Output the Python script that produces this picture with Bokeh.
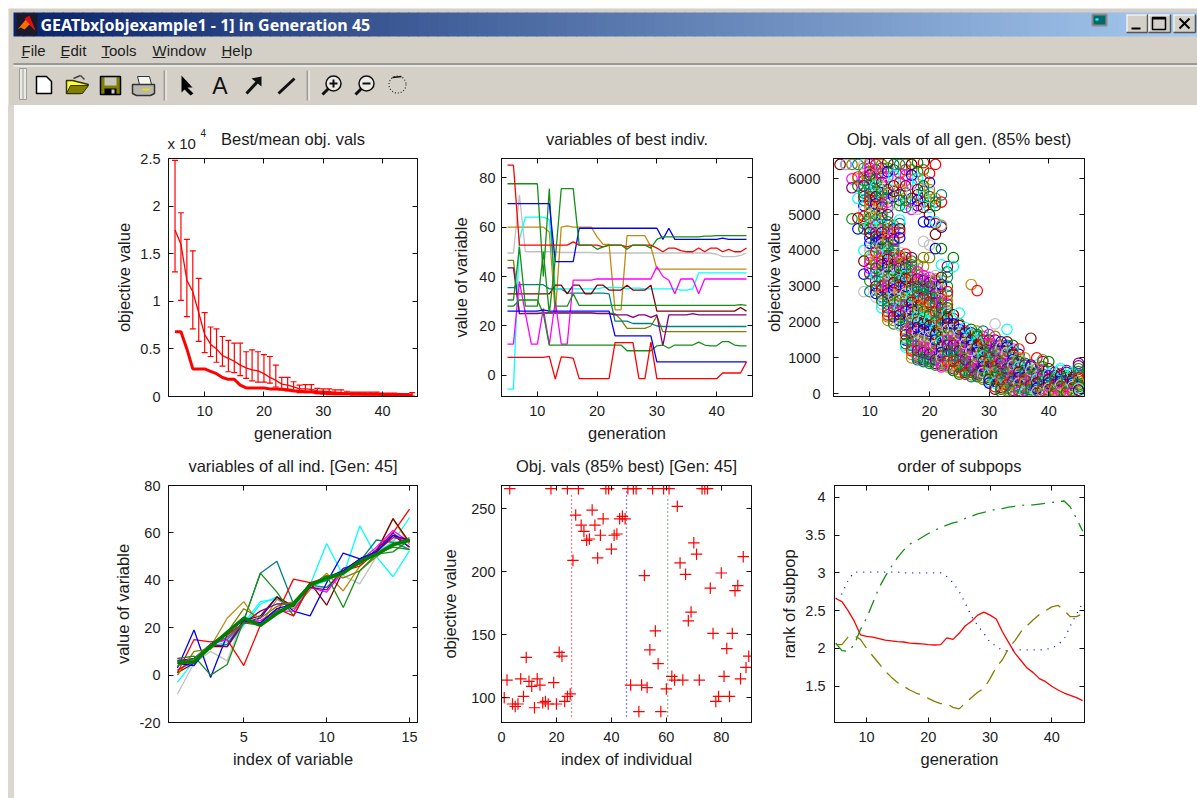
from bokeh.plotting import figure
from bokeh.layouts import column, row
from bokeh.models import (ColumnDataSource, FixedTicker, LinearAxis, Whisker, TeeHead, Label, Spacer,
                          NumeralTickFormatter, Range1d, Title, CustomLabelingPolicy)
from bokeh.core.properties import value
from bokeh.embed import file_html
from bokeh.resources import INLINE

FONT = "Liberation Sans"
TXT = "#1c1c1c"
GENS = list(range(5, 46))

# ---- panel 1 : best / mean objective values (x 10^4)
best = [0.68,0.68,0.5,0.29,0.29,
        0.29,0.265,0.24,0.2,0.18,0.18,0.12,0.09,0.09,0.09,
        0.09,0.08,0.08,0.075,0.07,0.06,0.055,0.05,0.05,0.04,
        0.04,0.035,0.03,0.03,0.03,0.03,0.03,0.025,0.025,0.025,
        0.02,0.02,0.02,0.015,0.015,0.015]
mean = [1.75,1.6,1.22,1.1,0.88,
        0.65,0.55,0.5,0.43,0.4,0.37,0.33,0.3,0.28,0.27,
        0.24,0.2,0.17,0.13,0.12,0.1,0.08,0.08,0.075,0.06,
        0.055,0.05,0.045,0.04,0.035,0.03,0.03,0.03,0.03,0.03,
        0.025,0.022,0.022,0.02,0.02,0.022]
upper = [2.48,1.93,1.65,1.53,1.24,
         0.88,0.73,0.71,0.63,0.59,0.56,0.56,0.47,0.49,0.47,
         0.44,0.42,0.33,0.2,0.2,0.155,0.12,0.125,0.125,0.085,
         0.08,0.08,0.07,0.07,0.055,0.045,0.045,0.045,0.045,0.045,
         0.035,0.035,0.035,0.03,0.03,0.04]
lower = [1.31,1.01,0.84,0.71,0.58,
         0.46,0.42,0.36,0.32,0.26,0.25,0.22,0.19,0.165,0.15,
         0.15,0.14,0.1,0.07,0.06,0.05,0.04,0.04,0.04,0.03,
         0.025,0.02,0.02,0.02,0.02,0.015,0.015,0.015,0.015,0.015,
         0.01,0.01,0.01,0.01,0.01,0.005]

# ---- panel 2 : variables of best individual
v_red_top = [85,85,52.7,52.7,52.7,
             52.7,52.7,52.7,52.7,52.7,52.7,54,52.7,52.7,52.7,
             52.7,52,52.7,52.7,52.7,52,52.7,52.7,52.7,52.7,
             51.5,50,51.5,51.5,50.5,50,50,51.5,50,51.5,
             51.5,50,51,50,50,51.5]
v_green_a = [77.5,77.5,77.5,77.5,77.5,
             77.5,40,75.5,28,28,28,33,28.3,28.3,28.3,
             28.3,28.3,28.3,28.3,28.3,28.3,28.3,28.3,28.3,28.3,
             28.3,28.3,28.3,28.3,28.3,28.3,28.3,28.3,28.3,28.3,
             28.3,28.3,28.3,28.3,28.6,28.3]
v_green_b = [30.5,30.5,52,28,28,
             28,50,25,47,75.5,75.5,75.5,52.7,52.7,52.7,
             51,52,52.7,52.7,52.7,51,52.7,52.7,52.7,51.5,
             55,56,56,56,56,56,56,56,56.3,56.3,
             56.5,56.5,56.5,56.5,56.5,56.5]
v_green_c = [28,28,30.5,30.5,30.5,
             30.5,25,12.3,12.3,12.3,12.3,12.3,12.3,12.3,12.3,
             12.3,12.3,12.3,12.3,12.3,10,10,10,10,10,
             12,12.3,11,12.3,12.3,12.3,12.3,13.5,12.3,12,
             12,13.7,13.7,12.3,12,12]
v_blue_top = [69.5,69.5,69.5,69.5,69.5,
              69.5,69.5,69.5,46,46,46,46,59.5,59.5,59.5,
              59.5,59.5,59.5,59.5,59.5,59.5,59.5,59.5,59.5,59.5,
              59.5,55,59.5,55,55,55,55,55,55,55,
              55,55.5,55,55,55,55]
v_blue_low = [26,26,26,26,26,
              26,26.5,26,26,26,26,26,26,26,26,
              26,26,26,16,16,16,16,16,16,16,
              5.5,5.5,5.5,5.5,5.5,5.5,5.5,5.5,5.5,5.5,
              5.5,5.5,5.5,5.5,5.5,5.5]
v_gold = [60,60,60,60,60,
          60,60,58,25,60,60.5,60,60,60,60,
          56,53,53,26.5,26.5,56.5,56.5,56.5,56.5,52,
          43,43,43,43,43,43,43,43,43,43,
          43,43,43,43,43,43]
v_olive = [46.5,46.5,25,25.2,25.2,
           25.2,25.2,25.2,25.2,25.2,25.2,25.2,25.2,25.2,25.2,
           25.2,25.2,25.2,25,22.5,19,19,19,19,20,
           24,17.7,17.7,17.7,17.7,17.7,17.7,17.7,17.7,17.7,
           17.7,17.7,17.7,17.7,17.7,17.7]
v_teal = [35.5,35.5,36.7,36.7,36.7,
          36.7,36.7,35,35,35,33.3,33.3,33.3,33.3,33.3,
          33.3,33.3,33,22,22,22,21,21,21,21,
          20,19.8,19.8,19.8,19.8,19.8,19.8,19.8,19.8,19.8,
          19.8,19.8,19.8,19.8,19.8,19.8]
v_cyan = [-5.5,-5.5,55,64,64,
          64,64,63,35,35,35,35,35,35,35,
          35,35.5,35.5,35.5,35.5,35,35.3,35.3,35,35,
          35,35,35,35,34.5,34.5,35,41.5,41.5,41.5,
          41.5,41.5,41.5,41.5,41.5,41.5]
v_magenta = [12.7,12.7,38,25,12.7,
             12.7,27,12.5,30,12.7,12.7,38.5,38.5,38.5,38.5,
             39,39,39,39,39,39,39,39,39,39,
             44,40,38.5,33,39,39,39,33,39,39,
             39,39,39,39,39,39]
v_purple = [43.5,43.5,25,25,25,
            25,25.3,25.3,25.3,25.3,25.3,25.3,25.3,25.3,25.3,
            25,25,25,24.5,24.5,24.5,23.5,24.5,24.5,23.5,
            24.5,12,24.5,24.5,24.5,24.5,25,24.5,24.5,24.5,
            24.5,24.5,24.5,24.5,24.5,24.5]
v_darkred = [33,33,33,33,33,
             33,33,33,36.5,36.5,33,36.5,36.5,33,33,
             36.5,36.5,34.5,34.5,34.5,36.5,34.5,34.5,34.5,36.5,
             26,26,26,26,26,26,26,26,26,26,
             26,26,26,26,27.5,26]
v_gray = [49.5,49.5,73,50,50,
          50,50,50,50,49.7,49.7,49.7,49.7,49.7,49.7,
          49.5,49.5,49.5,49.5,49.5,49.5,49.5,49.5,49.5,49.5,
          49.5,49.5,49.5,49.5,49.5,49.5,49.5,49.5,49.5,49.5,
          49,48,48,48,48.5,49.5]
v_red_low = [7.3,7.3,7.3,7.3,7.3,
             7.3,7.3,7.7,-1.5,7.5,7.3,7,-1.3,-1.3,-1.3,
             -1.3,-1.3,-1.3,13.3,13.3,13.3,13.3,-1.3,-1.3,13.5,
             -1.3,-1.3,-1.3,-1.3,-1.3,-1.3,-1.3,-1.3,-1.3,-1.3,
             -1.3,1,1,1,1,5.5]

# ---- panel 3 : objective values of all generations, by generation
all_obj = {
 5:[6400],
 6:[6400,6400],
 7:[6400,6000,5750,4880],
 8:[6400,6050,6000,5800,5450,4900,4600],
 9:[6400,6300,6050,5800,5600,5400,4950,4850,4600,4000,3700,3340,2850],
 10:[6450,6300,6100,5850,5600,5400,5200,4900,4700,4500,4200,4000,3850,3650,3350,3150,2850],
 11:[6400,6100,6000,5800,5500,5300,5100,4850,4700,4500,4300,4100,3950,3700,3500,3300,3000,2800,2700],
 12:[6400,6150,5900,5700,5500,5300,5100,4900,4700,4500,4300,4150,4000,3800,3600,3400,3200,3000,2800,2600,2400],
 13:[6450,6200,5850,5600,5350,5000,4800,4700,4500,4300,4100,3950,3750,3550,3350,3200,3000,2800,2600,2400,2200,2050],
 14:[6400,6100,5800,5500,5300,4700,4500,4300,4150,4000,3800,3650,3450,3250,3100,2900,2700,2500,2300,2150,1950],
 15:[6400,5900,5700,5400,4850,4600,4350,3950,3850,3700,3500,3300,3150,3000,2800,2600,2400,2200,2050,1900],
 16:[6400,6100,5800,5400,5200,3900,3700,3500,3300,3200,3000,2800,2600,2450,2300,2100,1900,1750,1550,1400,1300],
 17:[6400,6100,5600,5350,5150,3800,3600,3450,3250,3100,2900,2700,2550,2350,2200,2000,1850,1700,1500,1350,1200,1000],
 18:[6450,6000,5700,5400,5150,3600,3400,3200,3000,2850,2700,2500,2350,2150,2000,1850,1700,1500,1350,1200,1050,950],
 19:[6450,6000,5800,5500,5200,4800,4250,3800,3300,3150,3000,2800,2650,2450,2300,2100,1950,1800,1600,1450,1300,1150,1000,900],
 20:[6150,5700,5500,5200,5000,4800,4150,3800,3250,3100,2950,2750,2550,2400,2200,2050,1900,1750,1600,1400,1250,1100,950,850],
 21:[6400,5450,5250,4800,4450,4050,3300,3150,3000,2800,2650,2450,2300,2150,2000,1800,1650,1500,1350,1200,1050,950,800],
 22:[5550,5350,4700,4050,3600,3250,3050,2900,2750,2550,2400,2250,2100,1950,1750,1600,1450,1300,1150,1000,850,750],
 23:[3550,3400,3250,2850,2600,2400,2250,2100,1950,1800,1650,1500,1350,1200,1050,900,750],
 24:[3800,3550,2200,1950,1800,1650,1500,1350,1200,1050,900,750,650],
 25:[2250,1900,1800,1650,1500,1350,1200,1050,900,750,620,550],
 26:[1850,1700,1550,1400,1250,1100,950,800,650,550],
 27:[3050,1800,1650,1500,1350,1200,1050,900,750,600,480],
 28:[2880,1750,1600,1450,1300,1150,1000,850,700,550,480],
 29:[1750,1500,1350,1200,1050,900,750,600,450],
 30:[1650,1500,1300,1150,1000,850,700,550,400,300],
 31:[1950,1600,1350,1200,1050,900,750,600,450,300,130],
 32:[1450,1300,1150,1000,850,700,550,400,250,130],
 33:[1800,1450,1300,1150,1000,850,700,550,400,250,100],
 34:[1350,1200,1100,950,800,650,500,350,200,60],
 35:[1250,1000,900,750,600,450,300,150,40],
 36:[800,650,550,400,300,150,40],
 37:[1550,800,650,500,400,250,120,40],
 38:[1000,700,550,400,300,150,60],
 39:[950,650,500,350,250,100,0],
 40:[900,550,400,300,150,50,-30],
 41:[500,400,300,200,100,0],
 42:[650,500,350,250,150,50],
 43:[600,450,300,200,100,30],
 44:[550,400,300,200,100,40],
 45:[850,700,550,450,350,250,150,100],
}
more_obj = {
 9:[6150,5950,5700,5500,5250,5100,4750],
 10:[6400,6200,6000,5700,5500,5300,5050,4800,4600,4350,4100,3750,3500],
 11:[6250,5900,5650,5400,5200,5000,4600,4400,4200,3850,3600,3400,3150,2900],
 12:[6300,6050,5800,5600,5400,5200,5000,4800,4600,4400,4200,4050,3900,3700,3500,3300,3100,2900,2700,2500],
 13:[6300,6050,5700,5450,5200,4600,4400,4200,4050,3850,3650,3450,3300,3100,2900,2700,2500,2300,2150],
 14:[6250,5950,5650,4600,4400,4250,4050,3900,3750,3550,3350,3200,3000,2800,2600,2400,2200,2050],
 15:[6150,5550,5250,4750,4500,3800,3600,3400,3250,3050,2900,2700,2500,2300,2150,1950],
 16:[6250,5950,5600,5300,3800,3600,3400,3250,3100,2900,2700,2500,2350,2200,2000,1800,1650,1500,1350],
 17:[6250,5850,5450,3700,3550,3350,3200,3000,2800,2600,2450,2300,2100,1950,1800,1600,1450,1250,1100],
 18:[6200,5850,5550,5250,3500,3300,3100,2950,2750,2600,2450,2250,2100,1950,1800,1600,1450,1250,1100,1000],
 19:[6250,5650,5350,3550,3200,3050,2900,2700,2550,2400,2200,2000,1850,1700,1500,1350,1200,1050,950],
 20:[5900,5600,5350,3150,3000,2850,2650,2500,2300,2150,2000,1800,1650,1500,1300,1150,1000,900],
 21:[5350,4750,3200,3050,2900,2700,2550,2400,2250,2050,1900,1700,1550,1400,1250,1100,1000,850],
 22:[4650,3150,3000,2800,2650,2500,2350,2200,2000,1850,1650,1500,1350,1200,1050,900,800],
 23:[3000,2750,2500,2300,2150,2000,1850,1700,1550,1400,1250,1100,950,800],
 24:[2100,1850,1700,1550,1400,1250,1100,950,800,700],
 25:[1950,1700,1550,1400,1250,1100,950,800,680,600],
 26:[1750,1600,1450,1300,1150,1000,850,700,600],
 27:[1700,1550,1400,1250,1100,950,800,650,530],
 28:[1650,1500,1350,1200,1050,900,750,600,500],
 29:[1600,1400,1250,1100,950,800,650,500,400],
 30:[1400,1200,1050,900,750,600,450,350],
 31:[1500,1250,1100,950,800,650,500,350,200],
 32:[1350,1200,1050,900,750,600,450,300,180,60],
 33:[1350,1200,1050,900,750,600,450,300,150],
 34:[1250,1150,1000,850,700,550,400,250,100],
 35:[1100,950,800,650,500,350,200,90],
 36:[1000,850,700,600,450,350,200,90],
 37:[750,600,450,300,180,80],
 38:[800,600,450,350,200,100],
 39:[900,750,550,400,300,150,50],
 40:[700,500,350,200,100],
 41:[600,450,350,250,150,50],
 42:[700,550,400,300,200,100],
 43:[650,500,350,250,150,60],
 44:[600,450,350,250,150,70],
 45:[780,620,500,400,300,200,50],
}

# ---- panel 4 : variables of all individuals, generation 45
IDX = list(range(1, 16))
ind_red_a =   [1,15,14,15,4,21,26,40.5,39,41,44,49,52,60,70]
ind_blue_a =  [3,19,-1,17,22,24,33,27,25,39,51.5,49,52,59,54]
ind_teal =    [6,5,12,13,23,43,48,30,38,37,44,48,57,56,53]
ind_green_b = [7,8,0,4.5,23,43,35,25,38,42,28.5,44,51,52,57]
ind_gold =    [4,6,12,24,31,21,32,28,36,43,35.5,46,52,66,55]
ind_darkred = [1,5,12,12,23,25,33,29,39,29.5,44,47,52,66,56]
ind_gray =    [-8,5,10,6,25,22,28,30,37,37,42,38.5,50,57,53]
ind_magenta = [7,5,13,15,22,23,27,27,37,35,44,48,54,61,56]
ind_purple =  [6,7,13,12,22,27,30,30,37,36,45,47,53,60,54]
ind_olive =   [0,10,11,18,28,24,29,31,38,42,41,44,50,55,58]
ind_red_b =   [2,6,13,17,22,22,28,25,38,41,44,46,52,58,57]
ind_blue_b =  [5,4,13,18,23,22,28,30,38,41,44,49,52,59,57]
ind_cyan_a =  [-3,6,13,12,21,30,33,28,38,55.5,42,63,50,41.5,52.5]
ind_cyan_b =  [2,7,12,14,22,31,32,29,37,40,45,48,52,56,66.5]
ind_green_c = [4,7,13,16,22,21,27,30,38,40,43,47,51,54,53]
ind_best =    [5.5,5.5,12,18,24,21,26,30,38,41,43,48,51,55,57]

# ---- panel 5 : objective values of the individuals, generation 45
ind_x = [1,2,3,4,5,6,7,8,9,10,11,12,13,14,15,16,17,18,19,20,21,22,23,24,24,25,26,27,28,29,30,
         31,32,33,34,35,36,37,38,39,40,41,42,43,44,45,46,47,48,49,50,51,52,53,54,55,56,57,58,59,60,
         61,62,63,64,65,66,67,68,69,70,71,72,73,74,75,76,77,78,79,80,81,82,83,84,85,86,87,88,89,90]
ind_y = [100,114,266,95,93,95,115,101,132,113,109,92,115,110,96,97,95,266,112,95,136,133,97,266,101,103,209,245,266,237,232,
         225,226,249,237,211,229,242,266,266,218,229,230,242,244,242,266,110,266,266,89,110,197,108,138,266,153,127,89,266,107,
         266,117,114,252,207,114,198,161,168,223,214,114,266,266,266,187,151,97,101,199,117,139,101,151,185,189,115,212,124,133]
split_x = [25.5, 45.5, 60.5]
split_top = [263, 266, 260]
split_bottom = [85, 85, 85]

# ---- panel 6 : order of subpops
rank_red = [2.66,2.62,2.5,2.36,2.18,
            2.16,2.15,2.13,2.11,2.10,2.09,2.085,2.07,2.065,2.06,
            2.05,2.045,2.05,2.14,2.12,2.2,2.3,2.36,2.44,2.48,
            2.44,2.39,2.22,2.08,1.94,1.84,1.74,1.68,1.6,1.56,
            1.5,1.45,1.41,1.38,1.35,1.31]
rank_blue = [2.66,2.72,2.9,3.01,3.01,
             3.01,3.01,3.01,3.01,3.01,3.01,3.0,3.0,3.0,3.0,
             3.0,3.0,3.0,2.95,2.87,2.75,2.6,2.42,2.3,2.2,
             2.08,2.03,1.97,1.97,1.98,1.98,1.98,1.98,1.98,1.99,
             2.0,2.05,2.12,2.3,2.45,2.6]
rank_green = [2.07,1.97,1.96,2.05,2.25,
              2.4,2.6,2.8,2.95,3.08,3.2,3.3,3.38,3.42,3.47,
              3.52,3.56,3.6,3.63,3.66,3.68,3.72,3.75,3.78,3.8,
              3.82,3.84,3.85,3.87,3.88,3.89,3.9,3.9,3.91,3.92,
              3.93,3.94,3.95,3.87,3.72,3.55]
rank_olive = [2.05,2.05,2.15,2.17,2.12,
              2.0,1.9,1.8,1.7,1.62,1.55,1.5,1.45,1.41,1.38,
              1.34,1.3,1.27,1.27,1.22,1.2,1.28,1.35,1.42,1.47,
              1.6,1.75,1.85,2.0,2.1,2.22,2.3,2.38,2.45,2.5,
              2.55,2.57,2.5,2.42,2.42,2.46]

# ---- ticks / labels
GEN_TICKS = [10, 20, 30, 40]
CYCLE = ["#ff0000", "#0000ff", "#148f14", "#00ffff", "#ff00ff", "#c08a10",
         "#c0c0c0", "#008080", "#800000", "#800080", "#008000", "#808000"]
LINE_W = 1.3


def base(width, height, left, right, top, bottom, xr, yr, xt, yt, title, xl, yl, ly_standoff, ty_standoff):
    p = figure(width=width, height=height, output_backend="svg", toolbar_location=None,
               x_range=Range1d(*xr), y_range=Range1d(*yr),
               min_border_left=left, min_border_right=right, min_border_top=top, min_border_bottom=bottom,
               x_axis_type=None, y_axis_type=None)
    p.grid.visible = False
    p.outline_line_color = "#111111"
    p.outline_line_width = 1
    p.background_fill_color = "white"
    p.border_fill_color = None
    for side, ticks, labelled in [("below", xt, True), ("left", yt, True), ("above", xt, False), ("right", yt, False)]:
        ax = LinearAxis(ticker=FixedTicker(ticks=ticks), major_tick_in=5, major_tick_out=0,
                        minor_tick_in=0, minor_tick_out=0, axis_line_color="#111111",
                        major_tick_line_color="#111111",
                        formatter=NumeralTickFormatter(format="0.[0]"))
        if labelled:
            ax.major_label_text_font = FONT
            ax.major_label_text_font_size = "14.5px"
            ax.major_label_text_color = TXT
            ax.axis_label_text_font = FONT
            ax.axis_label_text_font_size = "16.5px"
            ax.axis_label_text_font_style = "normal"
            ax.axis_label_text_color = TXT
            if side == "below":
                ax.axis_label = xl
                ax.major_label_standoff = 9
                ax.axis_label_standoff = 5
            else:
                ax.axis_label = yl
                ax.major_label_standoff = ty_standoff
                ax.axis_label_standoff = ly_standoff
        else:
            ax.major_label_policy = CustomLabelingPolicy(code="return;")
            ax.major_label_text_font_size = "1px"
            ax.major_label_standoff = 0
        p.add_layout(ax, side)
    p.add_layout(Title(text=title, align="center", text_font=FONT, text_font_size="16.5px",
                       text_font_style="normal", text_color=TXT, standoff=14), "above")
    return p


# ---- window chrome
head = figure(width=1197, height=105, output_backend="svg", toolbar_location=None,
              x_range=Range1d(0, 1197), y_range=Range1d(105, 0), x_axis_type=None, y_axis_type=None,
              min_border=0, outline_line_color=None, border_fill_color=None)
head.grid.visible = False
head.background_fill_color = "white"
head.quad(left=[8], right=[1197], top=[8], bottom=[105], fill_color="#d4d0c8", line_color=None)
n = 120
c0, c1 = (10, 36, 106), (166, 202, 240)
bx = [13 + (1197 - 13) * i / n for i in range(n + 1)]
bc = ["#%02x%02x%02x" % tuple(int(a + (b - a) * i / (n - 1)) for a, b in zip(c0, c1)) for i in range(n)]
head.quad(left=bx[:-1], right=[b + 1 for b in bx[1:]], top=[12] * n, bottom=[36] * n, fill_color=bc, line_color=None)
head.segment([13], [63.5], [1197], [63.5], line_color="#9a9894", line_width=2)
head.segment([13], [65.5], [1197], [65.5], line_color="#ffffff", line_width=1)


def txt(x, y, s, size, color=TXT, bold=False, font=FONT, align="left"):
    head.text([x], [y], text=[s], text_font=value(font), text_font_size=size, text_color=color,
              text_baseline="middle", text_align=align, text_font_style="bold" if bold else "normal")


def poly(xs, ys, fill, line=None, w=1):
    head.patch(xs, ys, fill_color=fill, line_color=line, line_width=w)


def seg(x0, y0, x1, y1, c="black", w=1, dash="solid"):
    head.segment([x0], [y0], [x1], [y1], line_color=c, line_width=w, line_dash=dash)


txt(40, 24.5, "GEATbx[objexample1 - 1] in Generation 45", "16px", "white", True, "Noto Sans")
# logo
poly([16, 37, 37, 16], [13, 13, 35, 35], "#1a1a2a")
poly([17, 27, 35, 29, 24, 20], [29, 17, 30, 24, 29, 27], "#ff6a00")
poly([24, 29, 35, 30], [18, 15, 30, 25], "#e01010")
# menu
for mx, ms, ux0, ux1 in [(21, "File", 21, 28), (60, "Edit", 60, 68), (101, "Tools", 101, 109),
                         (152, "Window", 152, 165), (221, "Help", 221, 230)]:
    txt(mx, 49.5, ms, "15px")
    seg(ux0, 57, ux1, 57, TXT, 1)
# grip and separators
poly([19, 26, 26, 19], [68, 68, 99, 99], "#ebe9e3", "#a09e98")
seg(22.5, 68, 22.5, 99, "#a09e98", 1)
for sx in (164, 307):
    seg(sx, 70, sx, 100, "#a09e98", 2)
    seg(sx + 1.5, 70, sx + 1.5, 100, "#ffffff", 1)
# new
poly([36, 46, 51, 51, 36], [76, 76, 81, 93, 93], "white", "black", 1.5)
# open
poly([66, 72, 88, 80, 66], [80, 80, 84, 93, 93], "#ffff30", "#333300", 1.5)
poly([70, 88, 82, 66], [85, 85, 93, 93], "#808000", "#333300", 1)
seg(73, 78, 80, 75, "#444444", 1.5)
seg(80, 75, 84, 79, "#444444", 1.5)
# save
poly([100, 120, 120, 100], [76, 76, 94, 94], "#808000", "black", 1.5)
poly([104, 116, 116, 104], [77, 77, 85, 85], "#c8c8c0")
poly([104, 116, 116, 104], [88, 88, 94, 94], "black")
poly([111, 114, 114, 111], [89, 89, 93, 93], "#d4d0c8")
# print
poly([137, 149, 151, 139], [76, 76, 84, 84], "#f4f4f0", "#333333", 1)
poly([132, 154, 154, 150, 136, 132], [84, 84, 93, 95, 95, 93], "#b8b8b0", "#333333", 1.5)
seg(142, 89, 149, 89, "#e8e000", 2)
# pointer
poly([181, 192, 187, 193, 190, 184, 181], [75, 87, 87, 93, 95, 89, 92], "black")
txt(219.5, 85, "A", "23px", "#111111", False, FONT, "center")
# arrow, line
seg(246, 93, 259, 79, "#111111", 3)
poly([251, 261, 261], [78, 76, 86], "#111111")
seg(278, 93, 294, 78, "#111111", 3)
# zoom in/out, rotate
for cx, sign in ((333, 1), (366, 0)):
    head.scatter([cx], [83], size=15, fill_color="#ecebe6", line_color="#111111", line_width=1.5)
    seg(cx - 5, 88, cx - 11, 94, "#111111", 3)
    seg(cx - 4, 83, cx + 4, 83, "#111111", 2)
    if sign:
        seg(cx, 79, cx, 87, "#111111", 2)
head.scatter([397], [84], size=17, fill_color=None, line_color="#222222", line_width=1.2, line_dash="1 2")
seg(392, 77, 401, 76, "#111111", 1.5)
# title-bar buttons
poly([1092, 1106, 1106, 1092], [14, 14, 25, 25], "#006a6a", "#8a8a8a", 2)
seg(1095, 19, 1098, 19, "#30ffff", 2)
for bl, br in ((1126, 1147), (1148, 1170), (1173, 1195)):
    poly([bl, br, br, bl], [14, 14, 32, 32], "#d4d0c8")
    seg(bl, 14.5, br, 14.5, "white", 1)
    seg(bl + .5, 14, bl + .5, 32, "white", 1)
    seg(bl, 32, br, 32, "#555555", 1.5)
    seg(br, 14, br, 32, "#555555", 1.5)
seg(1131, 28, 1140, 28, "black", 2)
poly([1152, 1165, 1165, 1152], [17, 17, 29, 29], "#d4d0c8", "black", 1.5)
seg(1152, 18, 1165, 18, "black", 2)
seg(1179, 18, 1189, 28, "black", 2)
seg(1189, 18, 1179, 28, "black", 2)

# ---- panel 1
p1 = base(431, 339, 154, 28, 53, 48, (3.9, 45.9), (0, 2.5), GEN_TICKS, [0, 0.5, 1, 1.5, 2, 2.5],
          "Best/mean obj. vals", "generation", "objective value", 4, 8)
src = ColumnDataSource(dict(g=GENS, up=upper, lo=lower))
p1.add_layout(Whisker(source=src, base="g", upper="up", lower="lo", line_color="#ff0000", line_width=1.2,
                      upper_head=TeeHead(size=6, line_color="#ff0000", line_width=1.2),
                      lower_head=TeeHead(size=6, line_color="#ff0000", line_width=1.2)))
p1.line(GENS, mean, line_color="#ff0000", line_width=LINE_W)
p1.line(GENS, best, line_color="#ff0000", line_width=3)
p1.add_layout(Label(x=153, y=38, x_units="canvas", y_units="canvas", text_baseline="middle",
                    text="x 10", text_font=FONT, text_font_size="15px", text_color=TXT), "left")
p1.add_layout(Label(x=186, y=27, x_units="canvas", y_units="canvas", text_baseline="middle",
                    text="4", text_font=FONT, text_font_size="10px", text_color=TXT), "left")

# ---- panel 2
p2 = base(313, 339, 56, 6, 53, 48, (4, 46), (-8.5, 87.7), GEN_TICKS, [0, 20, 40, 60, 80],
          "variables of best indiv.", "generation", "value of variable", 6, 6)
series = [(v_gray, "#c0c0c0"), (v_olive, "#808000"), (v_gold, "#c08a10"), (v_teal, "#008080"), (v_cyan, "#00ffff"),
          (v_purple, "#800080"), (v_darkred, "#800000"), (v_magenta, "#ff00ff"), (v_green_a, "#148f14"),
          (v_green_c, "#148f14"), (v_blue_low, "#0000ff"), (v_blue_top, "#0000ff"), (v_red_low, "#ff0000"),
          (v_red_top, "#ff0000"), (v_green_b, "#148f14")]
for vals, col in series:
    assert len(vals) == len(GENS)
    p2.line(GENS, vals, line_color=col, line_width=LINE_W)

# ---- panel 3
p3 = base(439, 339, 75, 113, 53, 48, (3.9, 46), (-75, 6566), GEN_TICKS, [0, 1000, 2000, 3000, 4000, 5000, 6000],
          "Obj. vals of all gen. (85% best)", "generation", "objective value", 2, 13)
xs3, ys3, cs3 = [], [], []
for group in (more_obj, all_obj):
    for g, vals in group.items():
        for v in vals:
            xs3.append(g)
            ys3.append(v)
            cs3.append(CYCLE[(len(xs3) * 5) % len(CYCLE)])
p3.scatter(xs3, ys3, marker="circle", size=10.5, fill_color=None, line_color=cs3, line_width=1.2)

# ---- panel 4
p4 = base(422, 354, 154, 19, 41, 76, (0.46, 15.48), (-20, 80), [5, 10, 15], [-20, 0, 20, 40, 60, 80],
          "variables of all ind. [Gen: 45]", "index of variable", "value of variable", 5, 8)
for vals, col in [(ind_gray, "#c0c0c0"), (ind_cyan_a, "#00ffff"), (ind_cyan_b, "#00ffff"), (ind_teal, "#008080"),
                  (ind_red_a, "#ff0000"), (ind_blue_a, "#0000ff"), (ind_gold, "#c08a10"), (ind_darkred, "#800000"),
                  (ind_magenta, "#ff00ff"), (ind_purple, "#800080"), (ind_olive, "#808000"), (ind_green_b, "#148f14"),
                  (ind_red_b, "#ff0000"), (ind_blue_b, "#0000ff"), (ind_green_c, "#148f14")]:
    p4.line(IDX, vals, line_color=col, line_width=LINE_W)
p4.line(IDX, ind_best, line_color="#008000", line_width=3.5)

# ---- panel 5
p5 = base(339, 354, 65, 24, 41, 76, (0, 91), (80.3, 268.5), [0, 20, 40, 60, 80], [100, 150, 200, 250],
          "Obj. vals (85% best) [Gen: 45]", "index of individual", "objective value", 9, 6)
for sx, st, sb, col in zip(split_x, split_top, split_bottom, ["#ff0000", "#0000ff", "#148f14"]):
    p5.line([sx, sx], [sb, st], line_color=col, line_width=1.3, line_dash="1 3")
p5.scatter(ind_x, ind_y, marker="cross", size=11.5, line_color="#ff0000", line_width=1.2)

# ---- panel 6
p6 = base(422, 354, 59, 113, 41, 76, (4.8, 45.3), (1.02, 4.155), GEN_TICKS, [1.5, 2, 2.5, 3, 3.5, 4],
          "order of subpops", "generation", "rank of subpop", 4, 9)
p6.line(GENS, rank_red, line_color="#ff0000", line_width=LINE_W)
p6.line(GENS, rank_blue, line_color="#0000ff", line_width=LINE_W, line_dash="1 6")
p6.line(GENS, rank_green, line_color="#148f14", line_width=LINE_W, line_dash="14 7 2 7")
p6.line(GENS, rank_olive, line_color="#808000", line_width=LINE_W, line_dash="16 8")

strip = {"background": "#d9d7d0"}
r1 = row(Spacer(width=8, height=339), Spacer(width=6, height=339, styles=strip), p1, p2, p3, spacing=0)
r2 = row(Spacer(width=8, height=354), Spacer(width=6, height=354, styles=strip), p4, p5, p6, spacing=0)
page = column(head, r1, r2, spacing=0)

open("out.html", "w").write(file_html(page, INLINE))
